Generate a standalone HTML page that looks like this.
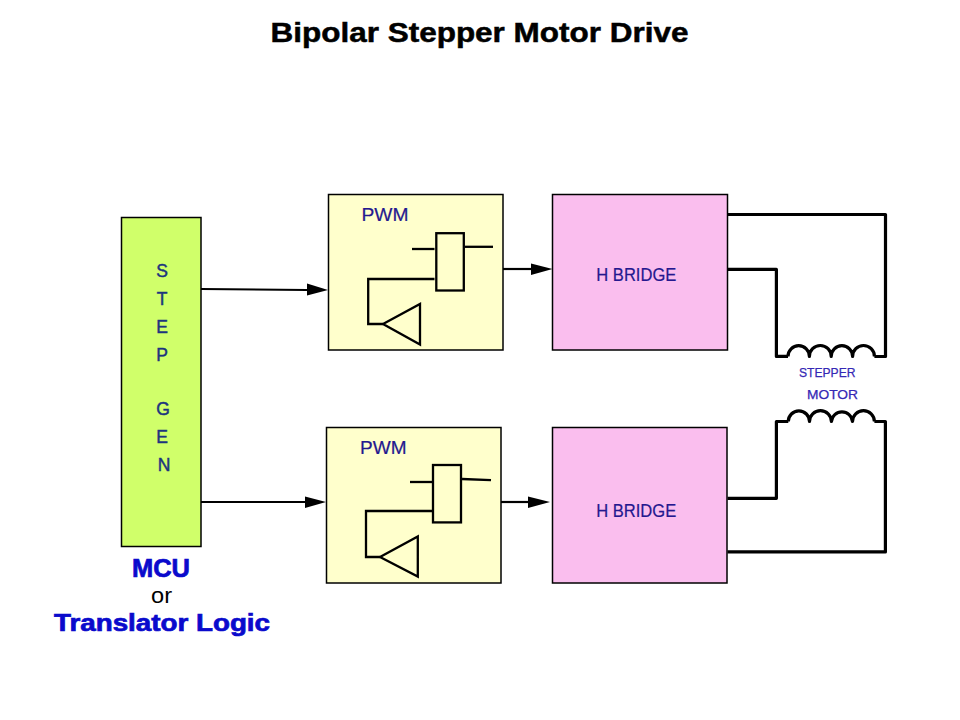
<!DOCTYPE html>
<html><head><meta charset="utf-8">
<style>
html,body{margin:0;padding:0;background:#fff;}
body{width:960px;height:720px;overflow:hidden;}
svg{display:block;}
text{font-family:"Liberation Sans",sans-serif;}
</style></head>
<body>
<svg width="960" height="720" viewBox="0 0 960 720">
<rect x="0" y="0" width="960" height="720" fill="#ffffff"/>
<!-- title -->
<text x="270.5" y="41.5" font-size="27.5" font-weight="bold" fill="#000" stroke="#000" stroke-width="0.5" textLength="418" lengthAdjust="spacingAndGlyphs">Bipolar Stepper Motor Drive</text>

<!-- green STEP GEN box -->
<rect x="121.5" y="217.5" width="79.5" height="329" fill="#D0FF6A" stroke="#000" stroke-width="1.5"/>
<g fill="#1C347E" stroke="#1C347E" stroke-width="0.45" font-size="17.5" text-anchor="middle">
<text x="162" y="276.5">S</text>
<text x="162" y="304.5">T</text>
<text x="162" y="332.5">E</text>
<text x="162" y="360.5">P</text>
<text x="163" y="415">G</text>
<text x="162" y="443">E</text>
<text x="164" y="470.5">N</text>
</g>

<!-- PWM boxes -->
<rect x="328.5" y="194.5" width="174.5" height="155.5" fill="#FFFFCC" stroke="#000" stroke-width="1.5"/>
<rect x="326.5" y="427.5" width="174.5" height="155.5" fill="#FFFFCC" stroke="#000" stroke-width="1.5"/>

<!-- H bridge boxes -->
<rect x="552.5" y="194.5" width="175" height="155.5" fill="#FABEEE" stroke="#000" stroke-width="1.5"/>
<rect x="552.5" y="427.5" width="174.5" height="155.5" fill="#FABEEE" stroke="#000" stroke-width="1.5"/>

<g fill="#24188F" stroke="#24188F" stroke-width="0.2" font-size="17.5">
<text x="361.5" y="221" textLength="47" lengthAdjust="spacingAndGlyphs">PWM</text>
<text x="360" y="454" textLength="46.5" lengthAdjust="spacingAndGlyphs">PWM</text>
<text x="596.3" y="281" textLength="80" lengthAdjust="spacingAndGlyphs">H BRIDGE</text>
<text x="596.2" y="517" textLength="80" lengthAdjust="spacingAndGlyphs">H BRIDGE</text>
</g>

<!-- arrows STEP GEN -> PWM -->
<g stroke="#000" fill="none" stroke-width="2.2">
<path d="M201 289 L307 290"/>
<path d="M201 502 L306 502"/>
<path d="M503 269 L531 269"/>
<path d="M501 502 L528 502"/>
</g>
<g fill="#000">
<path d="M307 283.5 L328 290 L307 295.5 Z"/>
<path d="M305 496.5 L326 502 L305 508 Z"/>
<path d="M531 263.5 L552.5 269 L531 275 Z"/>
<path d="M528 496.5 L550 502 L528 508 Z"/>
</g>

<!-- PWM internals -->
<g stroke="#000" fill="none" stroke-width="2.3">
<rect x="436.3" y="233.2" width="27.5" height="57.3"/>
<path d="M412 249 L434.5 249"/>
<path d="M464.8 246.8 L493 246.8"/>
<path d="M434.5 279 L368.2 279 L368.2 324 L383 324"/>
<path d="M383 324 L420 304 L420 344.5 Z" stroke-linejoin="miter"/>

<rect x="433" y="465" width="28" height="57.4"/>
<path d="M410 482 L432 482"/>
<path d="M462 479 L491 480.2"/>
<path d="M432 511 L366 511 L366 557 L380 557"/>
<path d="M380 557 L417.8 536.5 L417.8 576.5 Z"/>
</g>

<!-- motor wires -->
<g stroke="#000" fill="none" stroke-width="3.2" stroke-linejoin="round">
<path d="M727.5 214.5 L885.5 214.5 L885.5 356.5 L874.4 356.5"/>
<path d="M727.5 269.4 L776.4 269.4 L776.4 356.4 L788 356.4"/>
<path d="M788 356.4 A10.6 10.6 0 0 1 809.4 356.4 A10.6 10.6 0 0 1 831.2 356.4 A10.6 10.6 0 0 1 852.6 356.4 A10.6 10.6 0 0 1 874.4 356.4"/>

<path d="M727.5 498.3 L776.4 498.3 L776.4 421.5 L788.3 421.5"/>
<path d="M727.5 551.9 L885.4 551.9 L885.4 421.5 L874.4 421.5"/>
<path d="M788.3 421.5 A10.6 10.6 0 0 1 809.5 421.5 A10.6 10.6 0 0 1 831.4 421.5 A10.6 10.6 0 0 1 852.5 421.5 A10.6 10.6 0 0 1 874.4 421.5"/>
</g>

<g fill="#3528B5" stroke="#3528B5" stroke-width="0.25" font-size="13">
<text x="799" y="377" textLength="56.5" lengthAdjust="spacingAndGlyphs">STEPPER</text>
<text x="807" y="399" textLength="51" lengthAdjust="spacingAndGlyphs">MOTOR</text>
</g>

<!-- MCU text -->
<text x="132" y="577" font-size="25" font-weight="bold" fill="#0A0ACC" stroke="#0A0ACC" stroke-width="0.7" textLength="58" lengthAdjust="spacingAndGlyphs">MCU</text>
<text x="151" y="602.5" font-size="22" fill="#000" textLength="21" lengthAdjust="spacingAndGlyphs">or</text>
<text x="54" y="631" font-size="24" font-weight="bold" fill="#0A0ACC" stroke="#0A0ACC" stroke-width="0.7" textLength="216" lengthAdjust="spacingAndGlyphs">Translator Logic</text>
</svg>
</body></html>
